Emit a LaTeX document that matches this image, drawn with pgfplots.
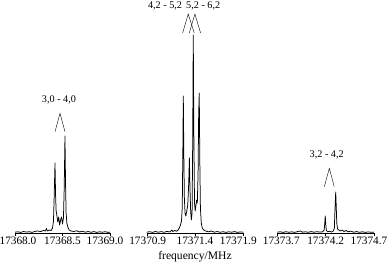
\documentclass[border=0pt]{standalone}
\usepackage{fontspec}
\setmainfont{Liberation Serif}
\usepackage{pgfplots}
\pgfplotsset{compat=1.18}

% one panel of the spectrum: only the frequency axis is drawn
\pgfplotsset{
  panel/.style={
    scale only axis, width=96pt, height=233pt,
    ymin=0, ymax=233,
    axis x line=bottom, axis y line=none,
    axis line style={-, thin},
    xtick align=outside, major tick length=3pt,
    tick style={black, thin},
    scaled x ticks=false,
    x tick label style={font=\fontsize{11.3}{13}\selectfont, inner sep=1pt},
    clip=false,
  },
  spec/.style={black, line width=0.75pt, mark=none, line join=round},
}
\newcommand{\lab}{\fontsize{10.2}{12}\selectfont}

\begin{document}
\begin{tikzpicture}

% ---- 3,0 - 4,0
\begin{axis}[panel, at={(15pt,34pt)}, anchor=south west, width=95pt,
    xmin=17368.0, xmax=17369.0,
    xtick={17368.0,17368.5,17369.0},
    xticklabels={\hspace*{6pt}17368.0,17368.5,17369.0\hspace*{10pt}}]
\addplot[spec] coordinates {
 (17368.00,0.8) (17368.03,1.2) (17368.06,0.6) (17368.09,1.5) (17368.12,0.9)
 (17368.15,1.3) (17368.18,0.6) (17368.21,1.6) (17368.24,2.0) (17368.27,1.4)
 (17368.30,2.5) (17368.32,2.0) (17368.33,4.5) (17368.34,2.0) (17368.36,3.0)
 (17368.38,2.5) (17368.395,5) (17368.405,12) (17368.412,35) (17368.421,70)
 (17368.427,38) (17368.433,22) (17368.44,18) (17368.45,11) (17368.46,16)
 (17368.47,8) (17368.48,13) (17368.49,16) (17368.50,9) (17368.51,15)
 (17368.518,45) (17368.526,97) (17368.532,50) (17368.538,20) (17368.546,10)
 (17368.556,6) (17368.57,3) (17368.59,2.0) (17368.62,1.5) (17368.65,2.2)
 (17368.68,1.0) (17368.71,1.8) (17368.74,0.8) (17368.77,1.5) (17368.80,0.7)
 (17368.83,1.4) (17368.86,0.6) (17368.89,1.2) (17368.92,0.8) (17368.95,1.3)
 (17368.98,0.6) (17369.00,0.9)
};
\node[font=\lab] at (axis cs:17368.463,133) {3,0 - 4,0};
\draw[thin] (axis cs:17368.421,101.3) -- (axis cs:17368.474,119.7)
  -- (axis cs:17368.526,101.3);
\end{axis}

% ---- 4,2 - 5,2 and 5,2 - 6,2
\begin{axis}[panel, at={(146.7pt,34pt)}, anchor=south west, width=96.6pt,
    xmin=17370.9, xmax=17371.9,
    xtick={17370.9,17371.4,17371.9},
    xticklabels={\hspace*{2pt}17370.9,17371.4,17371.9\hspace*{10pt}},
    xlabel={frequency/MHz},
    xlabel style={font=\fontsize{11.6}{13}\selectfont,
      at={(axis description cs:0.5,0)}, anchor=center, yshift=-24pt}]
\addplot[spec] coordinates {
 (17370.90,0.8) (17370.93,1.3) (17370.96,0.6) (17370.99,1.5) (17371.02,0.8)
 (17371.05,1.4) (17371.08,0.7) (17371.11,1.6) (17371.14,1.0) (17371.16,3.0)
 (17371.17,1.5) (17371.19,2.5) (17371.21,1.8) (17371.225,3) (17371.237,5)
 (17371.25,8) (17371.26,12) (17371.268,25) (17371.274,80) (17371.279,137)
 (17371.284,80) (17371.29,35) (17371.297,20) (17371.305,17) (17371.315,22)
 (17371.325,28) (17371.335,50) (17371.342,75) (17371.348,45) (17371.355,22)
 (17371.362,13) (17371.37,20) (17371.376,90) (17371.382,198) (17371.388,100)
 (17371.395,30) (17371.402,22) (17371.41,28) (17371.417,33) (17371.424,30)
 (17371.432,60) (17371.438,120) (17371.444,140) (17371.45,70) (17371.456,25)
 (17371.465,10) (17371.475,5) (17371.49,3) (17371.51,2.0) (17371.54,1.2)
 (17371.57,2.0) (17371.60,0.8) (17371.63,1.5) (17371.66,0.7) (17371.69,1.3)
 (17371.72,0.6) (17371.75,1.2) (17371.78,0.8) (17371.81,1.4) (17371.84,0.6)
 (17371.87,1.1) (17371.90,0.8)
};
\node[font=\lab] at (axis cs:17371.090,227.3) {4,2 - 5,2};
\node[font=\lab] at (axis cs:17371.485,227.3) {5,2 - 6,2};
\draw[thin] (axis cs:17371.272,200) -- (axis cs:17371.330,219)
  -- (axis cs:17371.392,200);
\draw[thin] (axis cs:17371.341,200) -- (axis cs:17371.399,219)
  -- (axis cs:17371.458,200);
\end{axis}

% ---- 3,2 - 4,2
\begin{axis}[panel, at={(277.3pt,34pt)}, anchor=south west, width=96.7pt,
    xmin=17373.7, xmax=17374.7,
    xtick={17373.7,17374.2,17374.7},
    xticklabels={\hspace*{8pt}17373.7,17374.2,17374.7\hspace*{10pt}}]
\addplot[spec] coordinates {
 (17373.70,0.8) (17373.73,1.2) (17373.76,0.6) (17373.79,1.3) (17373.82,0.7)
 (17373.85,1.2) (17373.88,0.6) (17373.91,1.4) (17373.94,2.0) (17373.96,0.8)
 (17373.99,1.2) (17374.02,0.7) (17374.05,1.4) (17374.08,0.8) (17374.11,1.3)
 (17374.14,0.9) (17374.17,1.2) (17374.185,3) (17374.191,10) (17374.196,17)
 (17374.201,9) (17374.207,2.5) (17374.22,1.2) (17374.24,1.8) (17374.26,1.0)
 (17374.28,2.0) (17374.29,5) (17374.296,22) (17374.304,41) (17374.309,28)
 (17374.315,10) (17374.323,4) (17374.335,3) (17374.35,2.0) (17374.37,3.0)
 (17374.39,1.5) (17374.41,2.5) (17374.43,1.2) (17374.46,1.8) (17374.49,0.8)
 (17374.52,1.4) (17374.55,0.7) (17374.58,1.2) (17374.61,0.6) (17374.64,1.1)
 (17374.67,0.7) (17374.70,0.9)
};
\node[font=\lab] at (axis cs:17374.211,78) {3,2 - 4,2};
\draw[thin] (axis cs:17374.186,46.3) -- (axis cs:17374.238,64.7)
  -- (axis cs:17374.289,46.3);
\end{axis}

\pgfresetboundingbox
\path[use as bounding box] (0,0) rectangle (389pt,267pt);
\end{tikzpicture}
\end{document}
